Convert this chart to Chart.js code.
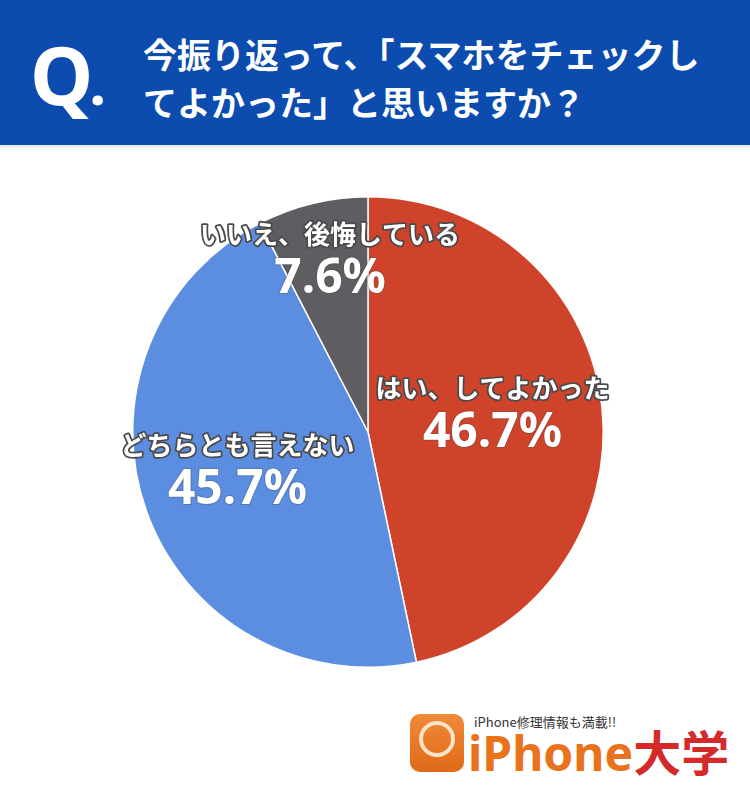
<!DOCTYPE html>
<html lang="ja">
<head>
<meta charset="utf-8">
<script src="https://cdn.jsdelivr.net/npm/chart.js@4"></script>
<style>
  html, body { margin: 0; padding: 0; background: #fff; }
  body { width: 750px; height: 800px; position: relative; overflow: hidden;
         font-family: "Noto Sans CJK JP", "Noto Sans", sans-serif; }
  #header { position: absolute; left: 0; top: 0; width: 750px; height: 145px;
            background: #0b4cae; border-bottom: 3px solid #e8eef8; }
  #q { position: absolute; left: 30px; top: 34px; color: #fff; font-weight: 700;
       font-size: 80px; line-height: 1; font-family: "Noto Sans", sans-serif; }
  #q span { font-size: 60px; position: relative; left: -4px; }
  #title { position: absolute; left: 143px; top: 30px; color: #fff; font-weight: 700;
           font-size: 34px; line-height: 48px; }
  #chart { position: absolute; left: 0; top: 146px; }
  #logo { position: absolute; left: 408px; top: 706px; width: 340px; height: 84px; }
  #icon { position: absolute; left: 2px; top: 8px; width: 54px; height: 58px;
          background: linear-gradient(#f08a3a, #e06a18); border-radius: 10px; }
  #ring { position: absolute; left: 9px; top: 7px; width: 28px; height: 28px;
          border: 4px solid #fbe3c8; border-radius: 50%; }
  #tag { position: absolute; left: 66px; top: 6px; font-size: 13px; color: #333; }
  #brand { position: absolute; left: 60px; top: 20px; font-size: 48px; font-weight: 700;
           line-height: 1; font-family: "Noto Sans", "Noto Sans CJK JP", sans-serif; }
  #brand .ip { color: #e8731c; }
  #brand .dg { color: #d42a2a; font-family: "Noto Sans CJK JP", sans-serif; }
</style>
</head>
<body>
<div id="header">
  <div id="q">Q<span>.</span></div>
  <div id="title">今振り返って、「スマホをチェックし<br>てよかった」と思いますか？</div>
</div>
<canvas id="chart" width="750" height="560"></canvas>
<div id="logo">
  <div id="icon"><div id="ring"></div></div>
  <div id="tag">iPhone修理情報も満載!!</div>
  <div id="brand"><span class="ip">iPhone</span><span class="dg">大学</span></div>
</div>
<script>
// data
const categories = ['はい、してよかった', 'どちらとも言えない', 'いいえ、後悔している'];
const shares = [46.7, 45.7, 7.6];
const sliceColors = ['#d0432b', '#5b8de0', '#5e5e62'];

// label placement: fraction of radius and angle shift (degrees) from slice middle
const labelRadius = [0.537, 0.575, 0.765];
const labelShift = [-3.9, 4.4, 1.5];

const pieLabels = {
  id: 'pieLabels',
  afterDatasetsDraw(chart) {
    const ctx = chart.ctx;
    const arcs = chart.getDatasetMeta(0).data;
    ctx.save();
    ctx.textAlign = 'center';
    ctx.textBaseline = 'middle';
    ctx.lineJoin = 'round';
    arcs.forEach((arc, i) => {
      const mid = (arc.startAngle + arc.endAngle) / 2 + labelShift[i] * Math.PI / 180;
      const r = arc.outerRadius * labelRadius[i];
      const x = arc.x + Math.cos(mid) * r;
      const y = arc.y + Math.sin(mid) * r;

      ctx.font = 'bold 26px "Noto Sans CJK JP", sans-serif';
      ctx.strokeStyle = '#4a4a4a';
      ctx.lineWidth = 3.5;
      ctx.strokeText(categories[i], x, y - 22);
      ctx.fillStyle = '#fff';
      ctx.fillText(categories[i], x, y - 22);

      const pct = shares[i].toFixed(1) + '%';
      ctx.font = 'bold 48px "Noto Sans", "Noto Sans CJK JP", sans-serif';
      ctx.strokeStyle = 'rgba(70,70,70,0.3)';
      ctx.lineWidth = 2;
      ctx.strokeText(pct, x, y + 23);
      ctx.fillStyle = '#fff';
      ctx.fillText(pct, x, y + 23);
    });
    ctx.restore();
  }
};

new Chart(document.getElementById('chart').getContext('2d'), {
  type: 'pie',
  data: {
    labels: categories,
    datasets: [{
      data: shares,
      backgroundColor: sliceColors,
      borderColor: '#ffffff',
      borderWidth: 1.5
    }]
  },
  options: {
    responsive: false,
    devicePixelRatio: 1,
    animation: false,
    layout: { padding: { left: 0, right: 14, top: 50, bottom: 38 } },
    plugins: {
      legend: { display: false },
      tooltip: { enabled: false }
    }
  },
  plugins: [pieLabels]
});
</script>
</body>
</html>
